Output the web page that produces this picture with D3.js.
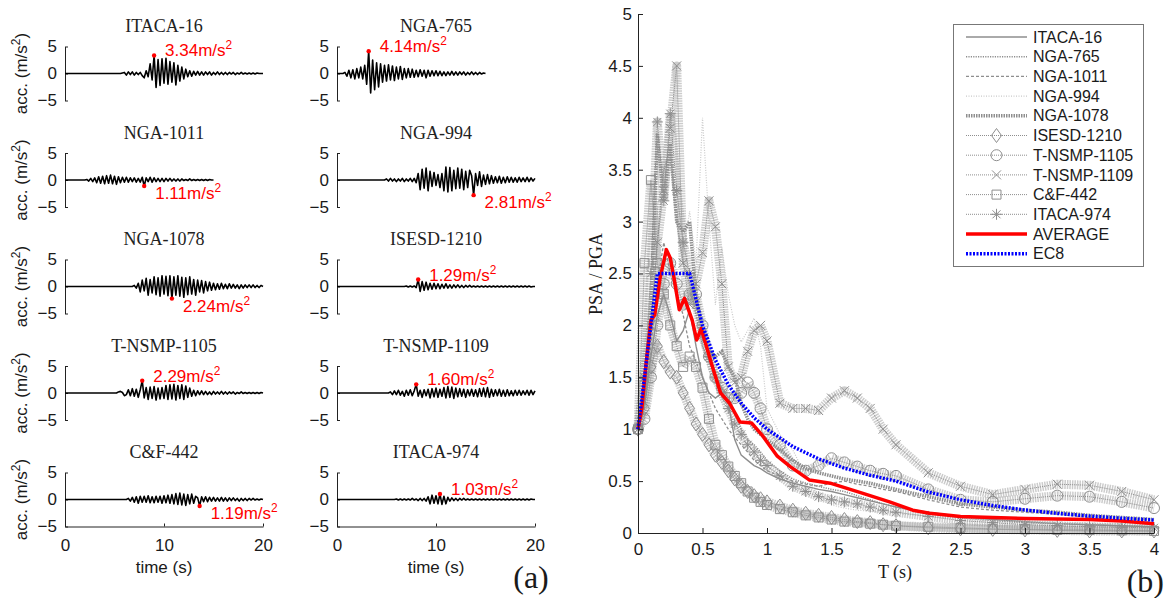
<!DOCTYPE html>
<html>
<head>
<meta charset="utf-8">
<script src="https://cdn.jsdelivr.net/npm/d3@7"></script>
<style>
  body { margin: 0; background: #fff; }
  svg { display: block; font-family: Arial, "Liberation Sans", sans-serif; }
</style>
</head>
<body>
<svg id="chart" width="1166" height="598"></svg>
<script>
// ---------------- data: (a) acceleration records, sampled every dt seconds ----------------
const recordNames = ['ITACA-16', 'NGA-765', 'NGA-1011', 'NGA-994', 'NGA-1078',
                     'ISESD-1210', 'T-NSMP-1105', 'T-NSMP-1109', 'C&F-442', 'ITACA-974'];
const dt = 0.2;
const timeTicks = [0, 10, 20];
const accTicks = [-5, 0, 5];

const accItaca16 = [
  0,0,0,0,0,0,0,0,0,0,
  0,0,0,0,0,0,0,0,0,0,
  0,0,0,0,0,0,0,0,0,0.1,
  0.2,-0.3,0.3,-0.2,0.3,-0.3,0.2,-0.2,0.2,-0.4,
  -0.8,0.5,-0.6,1.8,-1.2,3.34,-2.6,2.6,-2.2,2.7,
  -1.8,2.8,-2.0,2.2,-1.6,2.0,-2.1,1.5,-1.4,1.2,
  -1.0,0.8,-0.6,0.5,-0.5,0.4,-0.3,0.4,-0.3,0.3,
  -0.3,0.3,-0.2,0.3,-0.3,0.2,-0.2,0.3,-0.2,0.2,
  -0.2,0.2,-0.2,0.2,-0.1,0.2,-0.2,0.1,-0.1,0.2,
  -0.1,0.1,-0.1,0.1,-0.1,0.1,-0.1,0.1,0,0,
  0];
const accNga765 = [
  0,0,0,0,0.2,-0.5,0.6,-0.8,0.7,-1.0,
  0.9,-0.8,1.2,-1.0,1.5,-2.0,4.14,-3.6,2.5,-3.0,
  2.0,-2.5,1.8,-1.6,1.5,-1.4,1.6,-1.2,1.4,-1.3,
  1.2,-1.0,1.3,-1.1,0.9,-0.8,0.9,-0.7,0.8,-0.7,
  0.6,-0.6,0.7,-0.5,0.6,-0.8,0.6,-0.5,0.5,-0.4,
  0.5,-0.4,0.4,-0.4,0.3,-0.4,0.3,-0.3,0.4,-0.3,
  0.3,-0.3,0.3,-0.2,0.3,-0.3,0.2,-0.2,0.3,-0.2,
  0.2,-0.2,0.2,-0.1,0.1,0];
const accNga1011 = [
  0,0,0,0,0,0,0,0,0,0,
  0,0.1,-0.2,0.3,-0.3,0.4,-0.5,0.6,-0.6,0.7,
  -0.7,0.8,-0.6,0.9,-0.7,0.7,-0.8,0.6,-0.5,0.5,
  -0.4,0.5,-0.4,0.4,-0.3,0.4,-0.4,0.3,-0.4,0.5,
  -1.11,0.4,-0.3,0.5,-0.4,0.4,-0.3,0.3,-0.3,0.3,
  -0.3,0.3,-0.2,0.3,-0.2,0.2,-0.2,0.2,-0.2,0.2,
  -0.1,0.1,-0.1,0.2,-0.1,0.1,-0.1,0.1,-0.1,0.1,
  -0.1,0.1,-0.1,0.1,0,0];
const accNga994 = [
  0,0,0,0,0,0,0,0,0,0,
  0,0,0,0,0,0,0,0,0,0,
  0,0,0,0,0,0.2,-0.2,0.3,-0.2,0.2,
  -0.3,0.2,-0.2,0.3,-0.3,0.2,-0.2,0.3,-0.3,0.3,
  -0.5,1.2,-1.8,2.0,-1.5,2.2,-2.0,1.6,-1.2,1.4,
  -1.0,1.0,-1.4,1.2,-2.0,2.4,-2.2,2.3,-2.0,1.8,
  -1.6,2.2,-1.5,2.0,-1.8,1.6,-1.4,1.8,0.8,-2.81,
  1.2,-1.0,1.5,-1.2,0.9,-0.8,1.0,-0.7,0.8,-0.6,
  0.6,-0.5,0.7,-0.6,0.5,-0.5,0.6,-0.4,0.5,-0.4,
  0.4,-0.4,0.5,-0.3,0.4,-0.3,0.5,-0.3,0.4,-0.2,
  0.3];
const accNga1078 = [
  0,0,0,0,0,0,0,0,0,0,
  0,0,0,0,0,0,0,0,0,0,
  0,0,0,0,0,0,0,0,0,0,
  0,0,0,0,0,0.2,-0.3,0.6,-1.0,1.2,
  -0.8,1.5,-1.6,1.3,-1.2,1.8,-1.5,1.6,-1.8,2.0,
  -1.4,1.9,-1.7,2.0,-2.24,1.8,-1.6,2.0,-1.8,1.7,
  -2.0,1.6,-1.5,1.8,-1.4,1.3,-1.6,1.2,-1.0,1.1,
  -1.2,0.9,-0.8,0.8,-0.7,0.6,-0.6,0.5,-0.5,0.6,
  -0.4,0.4,-0.4,0.5,-0.3,0.4,-0.3,0.3,-0.4,0.3,
  -0.3,0.3,-0.2,0.3,-0.2,0.3,-0.2,0.2,-0.2,0.2,
  0];
const accIsesd1210 = [
  0,0,0,0,0,0,0,0,0,0,
  0,0,0,0,0,0,0,0,0,0,
  0,0,0,0,0,0,0,0,0,0,
  0,0,0,0,0,0.1,-0.1,0.1,-0.1,0.1,
  -0.2,1.29,-0.9,0.9,-0.7,0.8,-0.6,0.6,-0.5,0.6,
  -0.4,0.5,-0.4,0.4,-0.3,0.5,-0.3,0.3,-0.3,0.3,
  -0.2,0.3,-0.2,0.2,-0.2,0.2,-0.1,0.2,-0.1,0.1,
  -0.1,0.1,-0.1,0.1,-0.1,0.1,-0.1,0.1,-0.1,0.1,
  -0.1,0.1,-0.1,0.1,-0.1,0.1,-0.1,0.1,-0.1,0.1,
  -0.1,0.1,-0.1,0.1,-0.1,0.1,-0.1,0.1,-0.1,0,
  0];
const accTnsmp1105 = [
  0,0,0,0,0,0,0,0,0,0,
  0,0,0,0,0,0,0,0,0,0,
  0,0,0,0,0,0,0,0.2,0.3,0.1,
  -0.5,-0.3,0.6,-0.5,0.8,-0.6,0.7,-0.8,0.6,2.29,
  -0.9,1.0,-1.2,1.1,-1.0,1.2,-1.3,0.9,-1.1,1.0,
  -1.0,1.4,-1.2,1.5,-1.1,1.6,-1.3,1.4,-1.0,1.5,
  -1.2,1.3,-0.8,0.9,-0.6,0.5,-0.5,0.4,-0.3,0.4,
  -0.3,0.3,-0.3,0.2,-0.3,0.3,-0.2,0.2,-0.2,0.3,
  -0.2,0.2,-0.2,0.2,-0.1,0.2,-0.2,0.1,-0.1,0.2,
  -0.1,0.1,-0.1,0.1,-0.1,0.1,-0.1,0.1,-0.1,0.1,
  0];
const accTnsmp1109 = [
  0,0,0,0,0,0,0,0,0,0,
  0,0,0,0,0,0,0,0,0,0,
  0,0,0,0,0,0,0,0.2,-0.3,0.4,
  -0.3,0.5,-0.4,0.3,-0.6,0.5,-0.4,0.6,-0.5,0.4,
  1.60,-0.6,0.5,-0.8,0.6,-0.5,0.7,-0.9,0.8,-0.7,
  0.9,-0.8,0.7,-0.6,1.0,-0.9,1.2,-0.8,1.1,-1.0,
  0.9,-0.7,0.8,-0.6,0.7,-0.8,0.6,-0.5,0.7,-0.6,
  0.6,-0.7,0.8,-0.6,0.9,-0.7,1.0,-0.8,0.7,-0.6,
  0.6,-0.5,0.7,-0.6,0.5,-0.6,0.6,-0.5,0.4,-0.5,
  0.5,-0.4,0.5,-0.4,0.4,-0.3,0.5,-0.4,0.5,-0.3,
  0.4];
const accCf442 = [
  0,0,0,0,0,0,0,0,0,0,
  0,0,0,0,0,0,0,0,0,0,
  0,0,0,0,0,0,0,0,0,0,
  0,0,0.2,-0.3,0.4,-0.5,0.5,-0.7,0.6,-0.5,
  0.6,-0.5,0.7,-0.6,0.5,-0.6,0.6,-0.5,0.6,-0.7,
  0.7,-0.6,0.8,-0.7,0.9,-0.8,1.1,-0.9,1.2,-1.0,
  1.0,-1.1,0.9,-0.8,1.0,-0.7,0.6,0.3,-1.19,0.5,
  -0.4,0.5,-0.4,0.4,-0.3,0.4,-0.3,0.3,-0.3,0.4,
  -0.3,0.3,-0.3,0.3,-0.2,0.3,-0.2,0.2,-0.3,0.2,
  -0.2,0.2,-0.2,0.2,-0.1,0.2,-0.1,0.1,-0.1,0.1,
  0];
const accItaca974 = [
  0,0,0,0,0,0,0,0,0,0,
  0,0,0,0,0,0,0,0,0,0,
  0,0,0,0,0,0,0,0,0,0,
  0.1,-0.1,0.1,-0.1,0.1,-0.1,0.1,-0.1,0.2,-0.1,
  0.1,-0.2,0.2,-0.2,0.2,-0.3,0.5,-0.8,0.8,-0.7,
  0.7,-0.8,1.03,-0.9,0.6,-0.8,0.4,-0.3,0.3,-0.2,
  0.2,-0.2,0.2,-0.1,0.2,-0.1,0.1,-0.1,0.1,-0.1,
  0.1,-0.1,0.1,-0.1,0.1,-0.1,0.1,-0.1,0.1,-0.1,
  0.1,-0.1,0.1,-0.1,0.1,-0.1,0.1,-0.1,0.1,-0.1,
  0.1,-0.1,0.1,-0.1,0.1,-0.1,0.1,-0.1,0.1,0,
  0];

const peakTimes  = [9.0, 3.2, 8.0, 13.8, 10.8, 8.2, 7.8, 8.0, 13.6, 10.4];
const peakValues = [3.34, 4.14, -1.11, -2.81, -2.24, 1.29, 2.29, 1.60, -1.19, 1.03];

// ---------------- data: (b) normalised response spectra ----------------
const periods = [0,0.05,0.1,0.15,0.2,0.25,0.3,0.35,0.4,0.45,0.5,0.55,0.6,0.65,0.7,0.75,0.8,0.85,0.9,0.95,1.0,
                 1.1,1.2,1.3,1.4,1.5,1.6,1.7,1.8,1.9,2.0,2.25,2.5,2.75,3.0,3.25,3.5,3.75,4.0];
const spItaca16   = [1.0,1.25,1.7,2.1,2.3,2.1,1.85,1.95,2.15,1.8,1.5,1.35,1.3,1.35,1.25,0.9,0.75,0.7,0.65,0.62,0.58,
                     0.52,0.48,0.45,0.42,0.4,0.37,0.34,0.31,0.28,0.25,0.2,0.16,0.13,0.11,0.09,0.08,0.07,0.06];
const spNga765    = [1.0,1.3,2.0,2.8,3.5,3.7,3.0,2.6,2.4,2.1,1.8,1.65,1.5,1.4,1.3,1.15,1.0,0.9,0.85,0.78,0.7,
                     0.6,0.52,0.48,0.45,0.42,0.4,0.36,0.32,0.28,0.25,0.19,0.15,0.12,0.1,0.09,0.08,0.07,0.06];
const spNga1011   = [1.0,1.2,1.8,2.4,2.8,2.5,2.3,2.1,1.8,1.65,1.5,1.35,1.2,1.1,1.0,0.92,0.85,0.78,0.7,0.65,0.6,
                     0.55,0.5,0.47,0.45,0.48,0.5,0.47,0.45,0.42,0.4,0.32,0.25,0.22,0.2,0.18,0.15,0.12,0.1];
const spNga994    = [1.0,1.3,1.6,2.0,2.2,2.4,2.5,2.7,3.1,2.6,4.0,3.0,2.2,2.75,2.3,2.0,1.84,1.95,2.07,1.8,1.2,
                     0.95,0.8,0.55,0.36,0.27,0.24,0.22,0.21,0.2,0.19,0.16,0.14,0.12,0.11,0.1,0.09,0.09,0.08];
const spNga1078   = [1.0,1.4,2.2,3.85,3.2,3.75,3.0,2.9,3.0,2.3,1.9,1.75,1.7,1.75,1.6,1.5,1.25,1.1,1.0,0.95,0.9,
                     0.8,0.7,0.62,0.58,0.55,0.52,0.5,0.48,0.45,0.42,0.35,0.28,0.25,0.22,0.2,0.17,0.15,0.13];
const spIsesd1210 = [1.0,1.2,1.6,1.8,1.65,1.55,1.5,1.35,1.2,1.05,0.95,0.85,0.75,0.68,0.6,0.52,0.45,0.4,0.36,0.33,0.3,
                     0.26,0.22,0.19,0.17,0.15,0.13,0.11,0.1,0.08,0.07,0.05,0.04,0.035,0.03,0.025,0.02,0.02,0.02];
const spTnsmp1105 = [1.0,1.1,1.5,2.0,2.4,2.6,2.4,2.2,2.3,2.3,2.0,1.7,1.5,1.4,1.3,1.3,1.35,1.45,1.35,1.2,1.0,
                     0.85,0.65,0.6,0.65,0.72,0.68,0.64,0.6,0.57,0.55,0.42,0.32,0.3,0.33,0.36,0.35,0.3,0.24];
const spTnsmp1109 = [1.0,1.5,2.0,2.8,3.3,3.9,4.5,2.6,2.2,2.4,2.7,3.2,2.95,2.4,1.6,1.45,1.5,1.75,1.95,2.0,1.85,
                     1.25,1.2,1.2,1.18,1.3,1.37,1.3,1.2,1.0,0.85,0.58,0.45,0.37,0.42,0.47,0.46,0.4,0.32];
const spCf442     = [1.0,2.6,3.4,2.6,2.3,2.0,1.8,1.6,1.7,1.6,1.4,1.1,0.85,0.75,0.64,0.55,0.48,0.4,0.34,0.3,0.27,
                     0.23,0.2,0.17,0.15,0.13,0.11,0.1,0.09,0.08,0.07,0.06,0.05,0.04,0.035,0.03,0.03,0.025,0.02];
const spItaca974  = [1.0,1.5,2.5,3.96,3.2,4.04,3.3,2.8,2.5,2.2,1.9,1.7,1.5,1.35,1.2,1.05,0.95,0.85,0.78,0.7,0.65,
                     0.55,0.45,0.4,0.35,0.32,0.3,0.28,0.25,0.22,0.2,0.16,0.12,0.1,0.08,0.07,0.06,0.055,0.05];

const avgPeriods = [0,0.03,0.06,0.1,0.13,0.17,0.22,0.25,0.28,0.32,0.36,0.42,0.455,0.49,0.53,0.57,0.64,0.71,0.79,
                    0.88,0.97,1.08,1.18,1.33,1.49,1.62,1.75,1.95,2.13,2.26,2.5,2.75,3.0,3.25,3.5,3.75,4.0];
const avgValues  = [1.0,1.2,1.6,2.05,2.1,2.45,2.73,2.65,2.45,2.15,2.26,2.05,1.86,1.97,1.8,1.63,1.35,1.25,1.07,
                    1.06,0.93,0.74,0.64,0.51,0.48,0.43,0.38,0.3,0.22,0.19,0.16,0.15,0.14,0.135,0.13,0.115,0.09];
const ec8Periods = [0,0.15,0.4,0.5,0.6,0.7,0.8,0.9,1.0,1.2,1.4,1.6,1.8,2.0,2.25,2.5,2.75,3.0,3.25,3.5,3.75,4.0];
const ec8Values  = [1,2.5,2.5,2.0,1.667,1.429,1.25,1.111,1.0,0.833,0.714,0.625,0.556,0.5,0.395,0.32,0.264,0.222,
                    0.189,0.163,0.142,0.125];
const periodTicks = [0,0.5,1,1.5,2,2.5,3,3.5,4];
const ratioTicks  = [0,0.5,1,1.5,2,2.5,3,3.5,4,4.5,5];

// ---------------- drawing ----------------
const svg = d3.select('#chart');
const serif = '"Times New Roman", "Liberation Serif", serif';
const textCol = '#1a1a1a';

const records = [accItaca16, accNga765, accNga1011, accNga994, accNga1078,
                 accIsesd1210, accTnsmp1105, accTnsmp1109, accCf442, accItaca974];

const colX = [65, 337];
const rowTop = [46.5, 153, 259.5, 366, 472.5];
const panelW = 198, panelH = 54;

const tx = d3.scaleLinear().domain([0, 20]).range([0, panelW]);
const ty = d3.scaleLinear().domain([-5, 5]).range([panelH, 0]);

function supText(sel, base, tail) {
    // writes base + superscript 2 + tail
    sel.append('tspan').text(base);
    sel.append('tspan').attr('dy', -7).attr('font-size', '0.7em').text('2');
    if (tail) sel.append('tspan').attr('dy', 7).text(tail);
}

records.forEach((acc, i) => {
    const col = i % 2, row = Math.floor(i / 2);
    const g = svg.append('g').attr('transform', `translate(${colX[col]},${rowTop[row]})`);

    g.append('text')
        .attr('x', panelW / 2).attr('y', -14.5)
        .attr('text-anchor', 'middle')
        .attr('font-family', serif).attr('font-size', 18).attr('fill', '#222')
        .text(recordNames[i]);

    const yAxis = g.append('g')
        .call(d3.axisLeft(ty).tickValues(accTicks).tickSizeInner(-3).tickSizeOuter(0).tickPadding(8).tickFormat(d3.format('d')));
    yAxis.attr('font-family', null).attr('font-size', 17);
    yAxis.selectAll('text').attr('fill', textCol);
    yAxis.selectAll('line, path').attr('stroke', '#222');

    if (row === 4) {
        const xAxis = g.append('g').attr('transform', `translate(0,${panelH})`)
            .call(d3.axisBottom(tx).tickValues(timeTicks).tickSizeInner(-3).tickSizeOuter(0).tickPadding(12));
        xAxis.attr('font-family', null).attr('font-size', 17);
        xAxis.selectAll('text').attr('fill', textCol);
        xAxis.selectAll('line, path').attr('stroke', '#222');
        g.append('text')
            .attr('x', panelW / 2).attr('y', panelH + 46)
            .attr('text-anchor', 'middle').attr('font-size', 17).attr('fill', textCol)
            .text('time (s)');
    }

    if (col === 0) {
        const lab = g.append('text')
            .attr('transform', `translate(-38,${panelH / 2}) rotate(-90)`)
            .attr('text-anchor', 'middle').attr('font-size', 17).attr('fill', textCol);
        supText(lab, 'acc. (m/s', ')');
    }

    g.append('path')
        .datum(acc)
        .attr('fill', 'none')
        .attr('stroke', '#000')
        .attr('stroke-width', 1.6)
        .attr('stroke-linejoin', 'round')
        .attr('d', d3.line().x((d, j) => tx(j * dt)).y(d => ty(d)));

    const px = tx(peakTimes[i]), py = ty(peakValues[i]);
    g.append('circle').attr('cx', px).attr('cy', py).attr('r', 2.2).attr('fill', '#ff0000');
    const lab = g.append('text')
        .attr('x', px + 11).attr('y', py + (peakValues[i] > 0 ? 1 : 13))
        .attr('font-size', 17).attr('fill', '#ff0000');
    supText(lab, Math.abs(peakValues[i]).toFixed(2) + 'm/s');
});

svg.append('text').attr('x', 531).attr('y', 588)
    .attr('text-anchor', 'middle').attr('font-family', serif).attr('font-size', 32).attr('fill', textCol)
    .text('(a)');

// ---------------- (b) spectra ----------------
const sx = d3.scaleLinear().domain([0, 4]).range([638, 1154]);
const sy = d3.scaleLinear().domain([0, 5]).range([533, 14]);

const spectra = [spItaca16, spNga765, spNga1011, spNga994, spNga1078,
                 spIsesd1210, spTnsmp1105, spTnsmp1109, spCf442, spItaca974];
const grey = '#8e8e8e';
const spectraStyle = [
    {dash: null,      width: 1.4, color: grey,      marker: null},
    {dash: '1.2,1.2', width: 1.6, color: grey,      marker: null},
    {dash: '3,2',     width: 1.3, color: grey,      marker: null},
    {dash: '1,1.5',   width: 1.2, color: '#c9c9c9', marker: null},
    {dash: '1.5,1',   width: 3.5, color: grey,      marker: null},
    {dash: '1,1',     width: 1,   color: grey,      marker: 'diamond'},
    {dash: '1,1',     width: 1,   color: grey,      marker: 'circle'},
    {dash: '1,1',     width: 1,   color: grey,      marker: 'x'},
    {dash: '1,1',     width: 1,   color: grey,      marker: 'square'},
    {dash: '1,1',     width: 1,   color: grey,      marker: 'star'}
];
const markerPath = {
    diamond: 'M0,-7L5,0L0,7L-5,0Z',
    circle:  'M5.5,0A5.5,5.5 0 1 1 -5.5,0A5.5,5.5 0 1 1 5.5,0Z',
    x:       'M-4.5,-4.5L4.5,4.5M-4.5,4.5L4.5,-4.5',
    square:  'M-4.5,-4.5H4.5V4.5H-4.5Z',
    star:    'M-4,-4L4,4M-4,4L4,-4M-5.5,0H5.5M0,-5.5V5.5'
};

const specLine = d3.line().x(d => sx(d[0])).y(d => sy(d[1]));
const plot = svg.append('g');

spectra.forEach((vals, i) => {
    const st = spectraStyle[i];
    const pts = periods.map((t, j) => [t, vals[j]]);
    if (st.marker) {
        // dense markers in the source read as a thick hatched band
        plot.append('path').datum(pts)
            .attr('fill', 'none').attr('stroke', st.color).attr('stroke-opacity', 0.45)
            .attr('stroke-width', 9).attr('stroke-linejoin', 'round')
            .attr('stroke-dasharray', '1.5,1')
            .attr('d', specLine);
    }
    plot.append('path').datum(pts)
        .attr('fill', 'none').attr('stroke', st.color).attr('stroke-width', st.width)
        .attr('stroke-dasharray', st.dash)
        .attr('d', specLine);
    if (st.marker) {
        plot.selectAll(null).data(pts).join('path')
            .attr('transform', d => `translate(${sx(d[0])},${sy(d[1])})`)
            .attr('d', markerPath[st.marker])
            .attr('fill', 'none').attr('stroke', st.color).attr('stroke-width', 1);
    }
});

plot.append('path').datum(avgPeriods.map((t, j) => [t, avgValues[j]]))
    .attr('fill', 'none').attr('stroke', '#ff0000').attr('stroke-width', 3.5)
    .attr('stroke-linejoin', 'round').attr('d', specLine);
plot.append('path').datum(ec8Periods.map((t, j) => [t, ec8Values[j]]))
    .attr('fill', 'none').attr('stroke', '#0000ff').attr('stroke-width', 3.5)
    .attr('stroke-dasharray', '2,1.5').attr('d', specLine);

const sxAxis = svg.append('g').attr('transform', `translate(0,${sy(0)})`)
    .call(d3.axisBottom(sx).tickValues(periodTicks).tickSizeInner(-5).tickSizeOuter(0).tickPadding(10).tickFormat(d3.format('~g')));
const syAxis = svg.append('g').attr('transform', `translate(${sx(0)},0)`)
    .call(d3.axisLeft(sy).tickValues(ratioTicks).tickSizeInner(-5).tickSizeOuter(0).tickPadding(6).tickFormat(d3.format('~g')));
[sxAxis, syAxis].forEach(a => {
    a.attr('font-family', null).attr('font-size', 17);
    a.selectAll('text').attr('fill', textCol);
    a.selectAll('line, path').attr('stroke', '#222');
});

svg.append('text').attr('x', 895).attr('y', 578)
    .attr('text-anchor', 'middle').attr('font-family', serif).attr('font-size', 18).attr('fill', textCol)
    .text('T (s)');
svg.append('text').attr('transform', 'translate(602,274) rotate(-90)')
    .attr('text-anchor', 'middle').attr('font-family', serif).attr('font-size', 18).attr('fill', textCol)
    .text('PSA / PGA');
svg.append('text').attr('x', 1164).attr('y', 592)
    .attr('text-anchor', 'end').attr('font-family', serif).attr('font-size', 32).attr('fill', textCol)
    .text('(b)');

// ---------------- legend ----------------
const legend = svg.append('g');
legend.append('rect').attr('x', 953.5).attr('y', 24.5).attr('width', 190).attr('height', 242)
    .attr('fill', '#fff').attr('stroke', '#777').attr('stroke-width', 1);
const legendItems = recordNames.map((n, i) => ({name: n, st: spectraStyle[i]}))
    .concat([{name: 'AVERAGE', st: {color: '#ff0000', width: 3.5, dash: null}},
             {name: 'EC8', st: {color: '#0000ff', width: 3.5, dash: '2,1.5'}}]);
legendItems.forEach((d, i) => {
    const y = 37 + i * 19.7;
    legend.append('line').attr('x1', 966).attr('x2', 1027).attr('y1', y).attr('y2', y)
        .attr('stroke', d.st.color).attr('stroke-width', d.st.width).attr('stroke-dasharray', d.st.dash);
    if (d.st.marker) {
        legend.append('path').attr('transform', `translate(996.5,${y})`)
            .attr('d', markerPath[d.st.marker]).attr('fill', 'none')
            .attr('stroke', d.st.color).attr('stroke-width', 1);
    }
    legend.append('text').attr('x', 1033).attr('y', y).attr('dy', '0.35em')
        .attr('font-size', 16).attr('fill', textCol).text(d.name);
});
</script>
</body>
</html>
